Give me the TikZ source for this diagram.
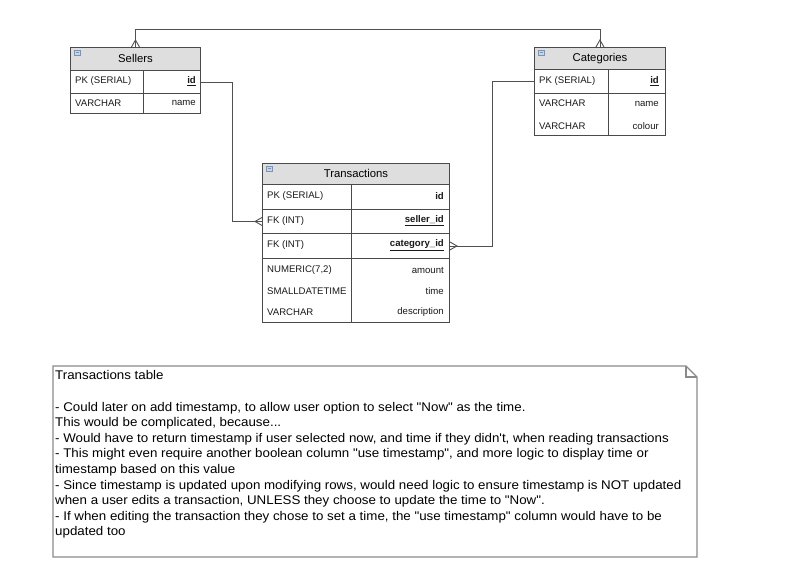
\documentclass[tikz,border=0pt]{standalone}
\usepackage{fontspec}
\setmainfont{Liberation Sans}
\newfontfamily\notefont[FakeStretch=1.058]{Liberation Sans}
\usetikzlibrary{calc}
\definecolor{tblline}{HTML}{4A4A4A}
\definecolor{hdrfill}{HTML}{DEDEDE}
\definecolor{connline}{HTML}{505050}
\definecolor{noteline}{HTML}{8A8A8A}
\definecolor{iconfill}{HTML}{C9D5E6}
\definecolor{iconline}{HTML}{7D93B4}
\begin{document}
\begin{tikzpicture}[x=1pt,y=-1pt,
  rowbox/.style={draw=tblline, line width=0.9pt, anchor=north west, inner sep=0pt},
  hdrbox/.style={rowbox, fill=hdrfill},
  cell/.style={font=\fontsize{9.6}{11}\selectfont, inner sep=0pt, text=black!90},
  lcell/.style={cell, anchor=west},
  rcell/.style={cell, anchor=east},
  ttl/.style={font=\fontsize{11.3}{13}\selectfont, inner sep=0pt},
  conn/.style={draw=connline, line width=0.9pt},
  divl/.style={draw=tblline, line width=0.9pt},
  icon/.style={fill=iconfill, draw=iconline, line width=0.5pt}
]
\useasboundingbox (0,0) rectangle (810,581);

% ---------------- Sellers ----------------
\node[hdrbox, minimum width=130pt, minimum height=23pt] (sh) at (70,47) {};
\node[rowbox, minimum width=130pt, minimum height=23pt] (s1) at (70,70) {};
\node[rowbox, minimum width=130pt, minimum height=20pt] (s2) at (70,93) {};
\draw[divl] (143,70) -- (143,113);
\draw[icon] (74,50) rectangle (80,55);
\draw[iconline, line width=0.5pt] (75.5,52.5) -- (78.5,52.5);
\node[ttl] (sellersT) at (sh.center) {Sellers};
\node[lcell] (s1l) at (75,81.5) {PK (SERIAL)};
\node[rcell] (s1r) at (196,81.5) {\underline{\textbf{id}}};
\node[lcell] (s2l) at (75,103) {VARCHAR};
\node[rcell] (s2r) at (196,103) {name};

% ---------------- Categories ----------------
\node[hdrbox, minimum width=131pt, minimum height=22pt] (ch) at (534,47) {};
\node[rowbox, minimum width=131pt, minimum height=24pt] (c1) at (534,69) {};
\node[rowbox, minimum width=131pt, minimum height=42pt] (c2) at (534,93) {};
\draw[divl] (608,69) -- (608,135);
\draw[icon] (538,50) rectangle (544,55);
\draw[iconline, line width=0.5pt] (539.5,52.5) -- (542.5,52.5);
\node[ttl] (categoriesT) at (ch.center) {Categories};
\node[lcell] (c1l) at (539,81) {PK (SERIAL)};
\node[rcell] (c1r) at (659,81) {\underline{\textbf{id}}};
\node[lcell] (c2l) at (539,103.5) {VARCHAR};
\node[rcell] (c2r) at (659,103.5) {name};
\node[lcell] (c3l) at (539,126) {VARCHAR};
\node[rcell] (c3r) at (659,126) {colour};

% ---------------- Transactions ----------------
\node[hdrbox, minimum width=187pt, minimum height=21pt] (th) at (262,163) {};
\node[rowbox, minimum width=187pt, minimum height=25pt] (t1) at (262,184) {};
\node[rowbox, minimum width=187pt, minimum height=24pt] (t2) at (262,209) {};
\node[rowbox, minimum width=187pt, minimum height=25pt] (t3) at (262,233) {};
\node[rowbox, minimum width=187pt, minimum height=64pt] (t4) at (262,258) {};
\draw[divl] (351,184) -- (351,322);
\draw[icon] (266,166) rectangle (272,171);
\draw[iconline, line width=0.5pt] (267.5,168.5) -- (270.5,168.5);
\node[ttl] (transT) at (th.center) {Transactions};
\node[lcell] (t1l) at (267,196.5) {PK (SERIAL)};
\node[rcell] (t1r) at (444,196.5) {\textbf{id}};
\node[lcell] (t2l) at (267,221) {FK (INT)};
\node[rcell] (t2r) at (444,221) {\underline{\textbf{seller\_id}}};
\node[lcell] (t3l) at (267,245.5) {FK (INT)};
\node[rcell] (t3r) at (444,245.5) {\underline{\textbf{category\_id}}};
\node[lcell] (t4l) at (267,270) {NUMERIC(7,2)};
\node[rcell] (t4r) at (444,270) {amount};
\node[lcell] (t5l) at (267,291) {SMALLDATETIME};
\node[rcell] (t5r) at (444,291) {time};
\node[lcell] (t6l) at (267,312.5) {VARCHAR};
\node[rcell] (t6r) at (444,312.5) {description};

% ---------------- Connectors ----------------
\draw[conn] (s1.east) -- ++(32,0) |- (t2.west);
\draw[conn] (t2.west) ++(0,-4) -- ++(-7,4) -- ++(7,4);

\draw[conn] (t3.east) -- ++(43,0) |- (c1.west);
\draw[conn] (t3.east) ++(0,-4) -- ++(7,4) -- ++(-7,4);

\draw[conn] (sh.north) -- ++(0,-18) -| (ch.north);
\draw[conn] (sh.north) ++(-4,0) -- ++(4,-7) -- ++(4,7);
\draw[conn] (ch.north) ++(-4,0) -- ++(4,-7) -- ++(4,7);

% ---------------- Note ----------------
\draw[draw=noteline, line width=1.1pt, fill=white]
  (53,366) -- (686,366) -- (697,377) -- (697,557) -- (53,557) -- cycle;
\draw[draw=noteline, line width=1.1pt] (686,366) -- (686,377) -- (697,377);
\node[anchor=north west, inner sep=0pt, align=left,
      font=\notefont\fontsize{12.6}{15.6}\selectfont] (notetext) at (55,370.5) {%
Transactions table\\
\strut\\
- Could later on add timestamp, to allow user option to select "Now" as the time.\\
This would be complicated, because...\\
- Would have to return timestamp if user selected now, and time if they didn't, when reading transactions\\
- This might even require another boolean column "use timestamp", and more logic to display time or\\
timestamp based on this value\\
- Since timestamp is updated upon modifying rows, would need logic to ensure timestamp is NOT updated\\
when a user edits a transaction, UNLESS they choose to update the time to "Now".\\
- If when editing the transaction they chose to set a time, the "use timestamp" column would have to be\\
updated too};
\end{tikzpicture}
\end{document}
